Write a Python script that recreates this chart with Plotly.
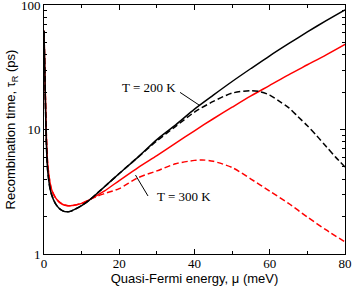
import plotly.graph_objects as go

# ---- data ----
x_low = [0, 0.25, 0.5, 0.75, 1, 1.5, 2, 3, 4, 5, 6, 7, 8, 10, 12, 14, 16, 20, 25]

# T = 200 K
black_low = [62, 26, 11, 6.2, 4.6, 3.5, 3.0, 2.55, 2.33, 2.22, 2.18, 2.2, 2.27, 2.45, 2.7, 3.05, 3.45, 4.43, 6.0]
x_hi_solid = [30, 35, 40, 45, 50, 55, 60, 65, 70, 75, 80]
black_solid_hi = [8.3, 10.9, 14.6, 18.9, 24.3, 30.9, 39.1, 48.9, 60.8, 74.9, 91.4]
x_hi_dash_200 = [30, 35, 40, 45, 50, 55, 57.5, 60, 62.5, 65, 67.5, 70, 72.5, 75, 77.5, 80]
black_dash_hi = [8.1, 10.6, 13.8, 16.8, 19.6, 20.5, 20.1, 18.9, 16.9, 15.0, 12.7, 10.7, 8.9, 7.3, 6.0, 5.0]

# T = 300 K
x_red_low = [0, 0.25, 0.5, 0.75, 1, 1.5, 2, 3, 4, 5, 6, 7, 8, 10, 12]
red_low = [62, 27, 12.5, 7.0, 5.2, 3.9, 3.3, 2.85, 2.62, 2.5, 2.45, 2.44, 2.46, 2.55, 2.72]
x_red_solid_hi = [14, 16, 20, 25, 30, 35, 40, 45, 50, 55, 60, 65, 70, 75, 80]
red_solid_hi = [2.95, 3.2, 3.89, 4.95, 6.17, 7.76, 9.77, 12.2, 15.1, 18.6, 22.6, 27.5, 33.1, 39.8, 48.3]
x_red_dash_hi = [14, 16, 20, 25, 30, 35, 40, 42, 45, 50, 55, 60, 65, 70, 75, 80]
red_dash_hi = [2.9, 3.05, 3.35, 4.1, 4.65, 5.3, 5.65, 5.7, 5.55, 4.95, 4.0, 3.2, 2.55, 1.98, 1.56, 1.25]

x_ticks = [0, 20, 40, 60, 80]
x_minor = [10, 30, 50, 70]
y_ticks = [1, 10, 100]
y_tick_text = ["1", "10", "100"]
y_minor = [2, 3, 4, 5, 6, 7, 8, 9, 20, 30, 40, 50, 60, 70, 80, 90]

labels = ["T = 200 K", "T = 300 K"]

# ---- figure ----
fig = go.Figure()
dash = "6px,3px"

def add(x, y, color, dashstyle):
    fig.add_trace(go.Scatter(x=x, y=y, mode="lines",
                             line=dict(color=color, width=1.5, dash=dashstyle, shape="spline", smoothing=0.8),
                             showlegend=False, hoverinfo="skip"))

add(x_red_low + x_red_dash_hi, red_low + red_dash_hi, "#ff0000", dash)
add(x_red_low + x_red_solid_hi, red_low + red_solid_hi, "#ff0000", "solid")
add(x_low + x_hi_dash_200, black_low + black_dash_hi, "#000000", dash)
add(x_low + x_hi_solid, black_low + black_solid_hi, "#000000", "solid")

tick_font = dict(family="Liberation Serif, Times New Roman, serif", size=13, color="black")
title_font = dict(family="Liberation Sans, Arial, sans-serif", size=13, color="black")

fig.update_layout(
    width=354, height=286,
    margin=dict(l=44, r=9, t=5, b=32),
    paper_bgcolor="white", plot_bgcolor="white",
    xaxis=dict(
        range=[0, 80], tickmode="array", tickvals=x_ticks,
        ticks="inside", ticklen=5, tickwidth=1, tickcolor="black",
        showline=True, linecolor="black", linewidth=1, mirror="allticks",
        showgrid=False, zeroline=False, tickfont=tick_font,
        ticklabeloverflow="allow", ticklabelstandoff=-3,
        minor=dict(tickmode="array", tickvals=x_minor, ticks="inside", ticklen=3,
                   tickcolor="black", showgrid=False),
        title=dict(text="Quasi-Fermi energy, μ (meV)", font=title_font, standoff=0),
        automargin=False,
    ),
    yaxis=dict(
        type="log", range=[0, 2], tickmode="array", tickvals=y_ticks, ticktext=y_tick_text,
        ticks="inside", ticklen=5, tickwidth=1, tickcolor="black",
        showline=True, linecolor="black", linewidth=1, mirror="allticks",
        showgrid=False, zeroline=False, tickfont=tick_font,
        ticklabeloverflow="allow",
        minor=dict(tickmode="array", tickvals=y_minor, ticks="inside", ticklen=3,
                   tickcolor="black", showgrid=False),
        title=dict(text="Recombination time, τ<sub>R</sub> (ps)", font=title_font, standoff=2),
        automargin=False,
    ),
)

label_font = dict(family="Liberation Serif, Times New Roman, serif", size=13, color="black")
fig.add_annotation(xref="paper", yref="paper", x=0.349, y=0.669, text=labels[0],
                   showarrow=False, font=label_font, xanchor="center", yanchor="middle")
fig.add_annotation(xref="paper", yref="paper", x=0.465, y=0.229, text=labels[1],
                   showarrow=False, font=label_font, xanchor="center", yanchor="middle")
fig.add_shape(type="line", xref="paper", yref="paper", x0=0.452, y0=0.649, x1=0.518, y1=0.596,
              line=dict(color="black", width=1))
fig.add_shape(type="line", xref="paper", yref="paper", x0=0.3455, y0=0.233, x1=0.304, y1=0.317,
              line=dict(color="black", width=1))

fig.write_html("out.html", config={"displayModeBar": False},
               post_script="document.body.style.margin='0';document.body.style.overflow='hidden';")
